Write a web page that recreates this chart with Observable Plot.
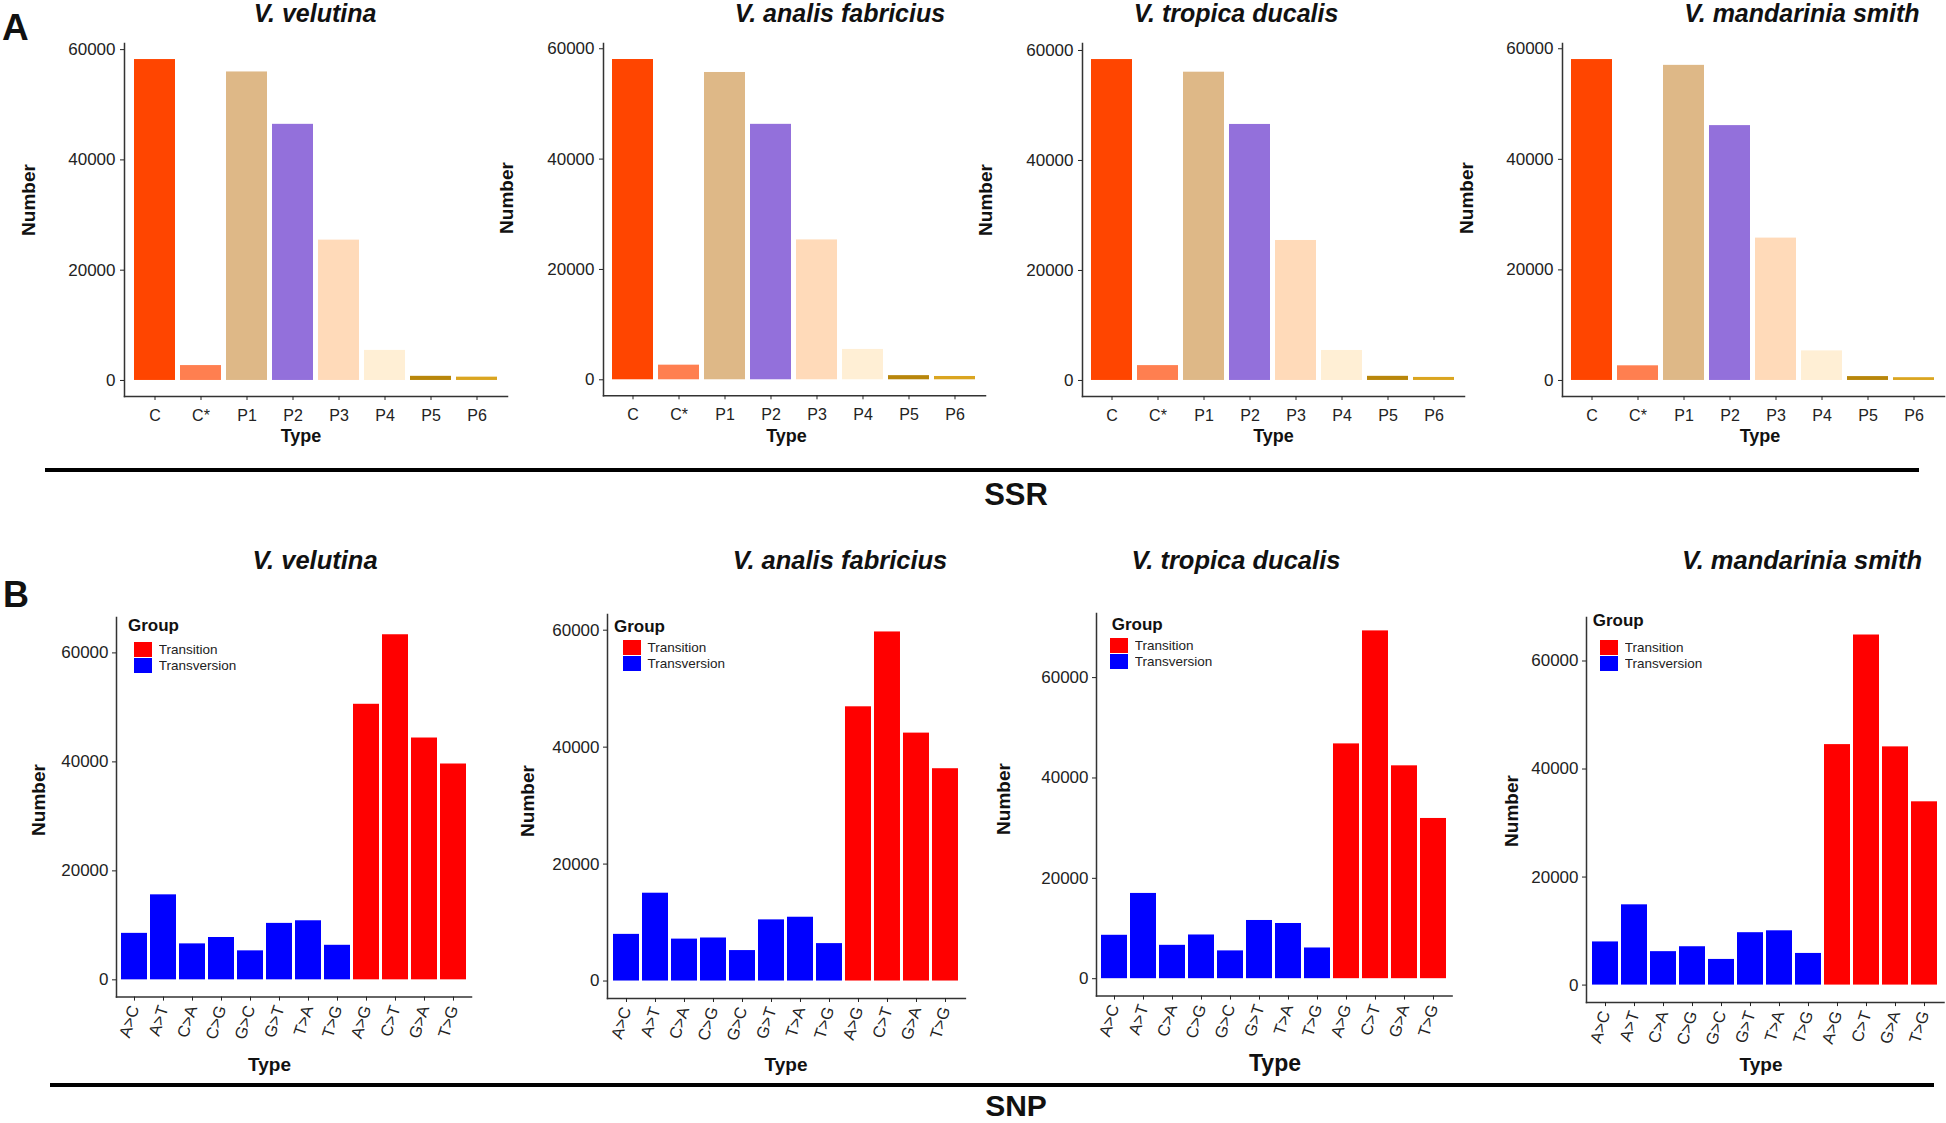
<!DOCTYPE html>
<html>
<head>
<meta charset="utf-8">
<script src="https://cdn.jsdelivr.net/npm/d3@7"></script>
<script src="https://cdn.jsdelivr.net/npm/@observablehq/plot@0.6"></script>
<style>
html, body { margin: 0; padding: 0; background: #fff; }
#page { position: relative; width: 1946px; height: 1123px; overflow: hidden; font-family: "Liberation Sans", Arial, sans-serif; color: #111; }
.txt { position: absolute; white-space: nowrap; line-height: 1; }
.holder { position: absolute; }
.rule { position: absolute; background: #000; }
</style>
</head>
<body>
<div id="page"></div>
<script>
// ---------------- DATA ----------------
const species = ["V. velutina", "V. analis fabricius", "V. tropica ducalis", "V. mandarinia smith"];

const ssrTypes = ["C", "C*", "P1", "P2", "P3", "P4", "P5", "P6"];
const ssrColors = ["#FF4500", "#FF7F50", "#DEB887", "#9370DB", "#FFDAB9", "#FFEFD5", "#B8860B", "#DAA520"];
const ssrVelutina   = [58200, 2700, 55950, 46450, 25450, 5450, 750, 600];
const ssrAnalis     = [58050, 2650, 55700, 46300, 25350, 5500, 750, 600];
const ssrTropica    = [58350, 2700, 56050, 46550, 25450, 5450, 750, 550];
const ssrMandarinia = [58050, 2650, 57000, 46100, 25750, 5350, 700, 500];

const snpLabels = ["A>C", "A>T", "C>A", "C>G", "G>C", "G>T", "T>A", "T>G", "A>G", "C>T", "G>A", "T>G"];
const snpGroup = ["Transversion", "Transversion", "Transversion", "Transversion", "Transversion", "Transversion",
                  "Transversion", "Transversion", "Transition", "Transition", "Transition", "Transition"];
const groupNames = ["Transition", "Transversion"];
const groupColors = ["#FF0000", "#0000FF"];
const snpVelutina   = [8530, 15600, 6600, 7770, 5320, 10360, 10840, 6340, 50570, 63330, 44380, 39610];
const snpAnalis     = [7980, 15020, 7170, 7360, 5210, 10460, 10910, 6400, 46900, 59700, 42400, 36310];
const snpTropica    = [8650, 16990, 6650, 8710, 5540, 11600, 11000, 6120, 46790, 69310, 42420, 31930];
const snpMandarinia = [7990, 14860, 6190, 7100, 4750, 9700, 10050, 5860, 44520, 64810, 44100, 33930];

const yTicks = [0, 20000, 40000, 60000];
const ssrSeries = [ssrVelutina, ssrAnalis, ssrTropica, ssrMandarinia];
const snpSeries = [snpVelutina, snpAnalis, snpTropica, snpMandarinia];

// ---------------- LAYOUT ----------------
const ssrFrames = [
  {L: 124, R: 507, T: 43, B: 396},
  {L: 603.3, R: 985.3, T: 43, B: 395.3},
  {L: 1082.3, R: 1464.3, T: 43, B: 396},
  {L: 1561.7, R: 1943.7, T: 43, B: 396}
];
const snpFrames = [
  {L: 116, R: 471, T: 617, B: 996.6},
  {L: 606.7, R: 964.6, T: 614.4, B: 998.4},
  {L: 1095.7, R: 1451.3, T: 613.2, B: 995.8},
  {L: 1586, R: 1943.5, T: 617, B: 1002.1}
];
const titleX = [315, 840, 1236, 1802];
const ssrNumberPos = [[27.5, 200], [505.5, 198], [984.5, 200], [1465.5, 198]];
const snpNumberPos = [[37.5, 800.3], [526.5, 801.2], [1002.5, 799.3], [1510.5, 811.4]];
const ssrTypeX = [301, 786.5, 1273.5, 1760];
const snpTypeX = [269.5, 786, 1275, 1761];
const snpTypeSize = [19, 19, 23, 19];
const legendPos = [
  {sx: 134, st: 642.2, gx: 128, gb: 631.1},
  {sx: 622.7, st: 639.6, gx: 614, gb: 632.2},
  {sx: 1110, st: 637.8, gx: 1111.7, gb: 630},
  {sx: 1600, st: 640.4, gx: 1592.7, gb: 626.3}
];

const FONT = '"Liberation Sans", Arial, sans-serif';
const page = document.getElementById("page");

function text(str, {x, baseline, size, weight = "bold", italic = false, anchor = "middle", lh = 1}) {
  const d = document.createElement("div");
  d.className = "txt";
  d.textContent = str;
  d.style.fontSize = size + "px";
  d.style.fontWeight = weight;
  d.style.lineHeight = String(lh);
  if (italic) d.style.fontStyle = "italic";
  const baseOff = (lh - 1.117) / 2 + 0.905;
  d.style.top = (baseline - baseOff * size) + "px";
  d.style.left = x + "px";
  if (anchor === "middle") d.style.transform = "translateX(-50%)";
  page.appendChild(d);
}
function vtext(str, cx, cy, size) {
  const d = document.createElement("div");
  d.className = "txt";
  d.textContent = str;
  d.style.fontSize = size + "px";
  d.style.fontWeight = "bold";
  d.style.left = cx + "px";
  d.style.top = cy + "px";
  d.style.transform = "translate(-50%,-50%) rotate(-90deg)";
  page.appendChild(d);
}
function place(node, left, top) {
  const d = document.createElement("div");
  d.className = "holder";
  d.style.left = left + "px";
  d.style.top = top + "px";
  d.appendChild(node);
  page.appendChild(d);
}
function hrule(left, right, top, h) {
  const d = document.createElement("div");
  d.className = "rule";
  d.style.left = left + "px";
  d.style.width = (right - left) + "px";
  d.style.top = top + "px";
  d.style.height = h + "px";
  page.appendChild(d);
}

const plotStyle = {fontFamily: FONT, background: "transparent", color: "#222", overflow: "visible", maxWidth: "none"};

// ---------------- SSR PANELS ----------------
ssrSeries.forEach((vals, k) => {
  const g = ssrFrames[k];
  const m = {left: 80, right: 6, top: 6, bottom: 50};
  const data = ssrTypes.map((t, i) => ({type: t, value: vals[i]}));
  const max = d3.max(vals);
  const chart = Plot.plot({
    width: m.left + (g.R - g.L) + m.right,
    height: m.top + (g.B - g.T) + m.bottom,
    marginLeft: m.left, marginRight: m.right, marginTop: m.top, marginBottom: m.bottom,
    style: plotStyle,
    x: {domain: ssrTypes, paddingInner: 0.1, paddingOuter: 0.15, label: null},
    y: {domain: [-0.05 * max, 1.05 * max], label: null},
    color: {domain: ssrTypes, range: ssrColors},
    marks: [
      Plot.barY(data, {x: "type", y: "value", fill: "type"}),
      Plot.frame({anchor: "left", stroke: "#333", strokeWidth: 1.5}),
      Plot.frame({anchor: "bottom", stroke: "#333", strokeWidth: 1.5}),
      Plot.axisY({ticks: yTicks, tickFormat: "d", tickSize: 4, tickPadding: 5, fontSize: 17, label: null}),
      Plot.axisX({tickSize: 4, tickPadding: 9, fontSize: 16, label: null})
    ]
  });
  place(chart, g.L - m.left, g.T - m.top);
  text(species[k], {x: titleX[k], baseline: 22, size: 25, italic: true});
  vtext("Number", ssrNumberPos[k][0], ssrNumberPos[k][1], 19);
  text("Type", {x: ssrTypeX[k], baseline: 442.5, size: 18});
});

// ---------------- SNP PANELS ----------------
snpSeries.forEach((vals, k) => {
  const g = snpFrames[k];
  const m = {left: 80, right: 6, top: 6, bottom: 70};
  const data = snpLabels.map((l, i) => ({i, label: l, group: snpGroup[i], value: vals[i]}));
  const max = d3.max(vals);
  const chart = Plot.plot({
    width: m.left + (g.R - g.L) + m.right,
    height: m.top + (g.B - g.T) + m.bottom,
    marginLeft: m.left, marginRight: m.right, marginTop: m.top, marginBottom: m.bottom,
    style: plotStyle,
    x: {domain: d3.range(snpLabels.length), paddingInner: 0.1, paddingOuter: 0.15, label: null},
    y: {domain: [-0.05 * max, 1.05 * max], label: null},
    color: {domain: groupNames, range: groupColors},
    marks: [
      Plot.barY(data, {x: "i", y: "value", fill: "group"}),
      Plot.frame({anchor: "left", stroke: "#333", strokeWidth: 1.5}),
      Plot.frame({anchor: "bottom", stroke: "#333", strokeWidth: 1.5}),
      Plot.axisY({ticks: yTicks, tickFormat: "d", tickSize: 4, tickPadding: 4, fontSize: 17, label: null}),
      Plot.axisX({tickFormat: (i) => snpLabels[i], tickRotate: -72, tickSize: 4, tickPadding: 5, fontSize: 16.5, label: null})
    ]
  });
  place(chart, g.L - m.left, g.T - m.top);
  text(species[k], {x: titleX[k], baseline: 569.7, size: 25.5, italic: true});
  vtext("Number", snpNumberPos[k][0], snpNumberPos[k][1], 19);
  text("Type", {x: snpTypeX[k], baseline: 1071, size: snpTypeSize[k]});

  // legend
  const lp = legendPos[k];
  text("Group", {x: lp.gx, baseline: lp.gb, size: 17, anchor: "start"});
  const leg = Plot.legend({
    color: {domain: groupNames, range: groupColors},
    columns: 1, swatchWidth: 18, swatchHeight: 15,
    style: {fontFamily: FONT, fontSize: "13.5px", lineHeight: "15px", color: "#222", margin: "0", background: "transparent", width: "170px"}
  });
  place(leg, lp.sx, lp.st);
});

// ---------------- SECTION LABELS ----------------
text("A", {x: 2, baseline: 40, size: 37, anchor: "start"});
text("B", {x: 3, baseline: 607.7, size: 36, anchor: "start"});
hrule(45, 1919, 468.3, 4);
text("SSR", {x: 1016, baseline: 505, size: 31});
hrule(50, 1934, 1083.3, 3.5);
text("SNP", {x: 1016, baseline: 1116, size: 30, lh: 0.8});
</script>
</body>
</html>
